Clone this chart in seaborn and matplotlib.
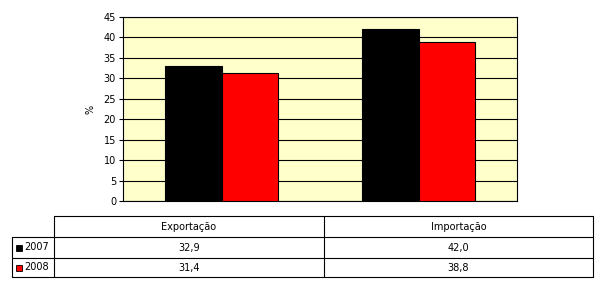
import matplotlib
matplotlib.use("Agg")
import matplotlib.pyplot as plt
import seaborn as sns
import pandas as pd
from matplotlib.patches import Rectangle

categories = ["Exportação", "Importação"]
years = ["2007", "2008"]
values_2007 = [32.9, 42.0]
values_2008 = [31.4, 38.8]
colors = ["#000000", "#FF0000"]
yticks = [0, 5, 10, 15, 20, 25, 30, 35, 40, 45]

df = pd.DataFrame({
    "categoria": categories * 2,
    "ano": [years[0]] * 2 + [years[1]] * 2,
    "valor": values_2007 + values_2008,
})

sns.set_style("white")
plt.rcParams["font.family"] = ["DejaVu Sans"]
plt.rcParams["text.color"] = "black"
plt.rcParams["axes.labelcolor"] = "black"
plt.rcParams["xtick.color"] = "black"
plt.rcParams["ytick.color"] = "black"

W, H = 601, 292
fig = plt.figure(figsize=(W / 100, H / 100), dpi=100)
fig.patch.set_facecolor("white")

# main axes in pixel coords
L, R, T, B = 123, 517, 17, 201
ax = fig.add_axes([L / W, 1 - B / H, (R - L) / W, (B - T) / H])
ax.set_facecolor("#FFFFCC")
sns.barplot(data=df, x="categoria", y="valor", hue="ano", palette=colors,
            width=0.575, edgecolor="black", linewidth=0.8, ax=ax,
            legend=False, saturation=1, zorder=3)
ax.set_xlim(-0.5, 1.5)
ax.set_ylim(0, 45)
ax.set_yticks(yticks)
ax.set_yticklabels([str(t) for t in yticks], fontsize=7, color="black")
ax.yaxis.grid(True, color="black", linewidth=0.8, zorder=0)
ax.set_axisbelow(True)
ax.tick_params(axis="y", which="both", left=True, length=3, width=0.8, pad=2, color="black")
ax.set_xticks([])
ax.set_xlabel("")
ax.set_ylabel("%", fontsize=7, labelpad=6, color="black")
for s in ax.spines.values():
    s.set_visible(True)
    s.set_color("black")
    s.set_linewidth(0.8)

# table overlay in pixel coordinates
tab = fig.add_axes([0, 0, 1, 1])
tab.set_xlim(0, W)
tab.set_ylim(H, 0)
tab.axis("off")
tab.patch.set_alpha(0)

lw = 0.8
x0, x1, x2, x3 = 12, 54, 324, 593
y0, y1, y2, y3 = 216, 237, 258, 277
hl = [(y0, x1, x3), (y1, x0, x3), (y2, x0, x3), (y3, x0, x3)]
for y, xa, xb in hl:
    tab.plot([xa, xb], [y, y], color="black", lw=lw)
vl = [(x0, y1, y3), (x1, y0, y3), (x2, y0, y3), (x3, y0, y3)]
for x, ya, yb in vl:
    tab.plot([x, x], [ya, yb], color="black", lw=lw)

col_centers = [(x1 + x2) / 2, (x2 + x3) / 2]
for cx, cat in zip(col_centers, categories):
    tab.text(cx, (y0 + y1) / 2, cat, ha="center", va="center", fontsize=7, color="black")

rows = [(y1, y2), (y2, y3)]
for (ya, yb), yr, col, vals in zip(rows, years, colors, [values_2007, values_2008]):
    cy = (ya + yb) / 2
    tab.add_patch(Rectangle((16, cy - 3), 6, 6, facecolor=col, edgecolor="black", lw=0.6))
    tab.text(24, cy, yr, ha="left", va="center", fontsize=7, color="black")
    for cx, v in zip(col_centers, vals):
        tab.text(cx, cy, f"{v:.1f}".replace(".", ","), ha="center", va="center",
                 fontsize=7, color="black")

fig.savefig("out.png", dpi=100)
